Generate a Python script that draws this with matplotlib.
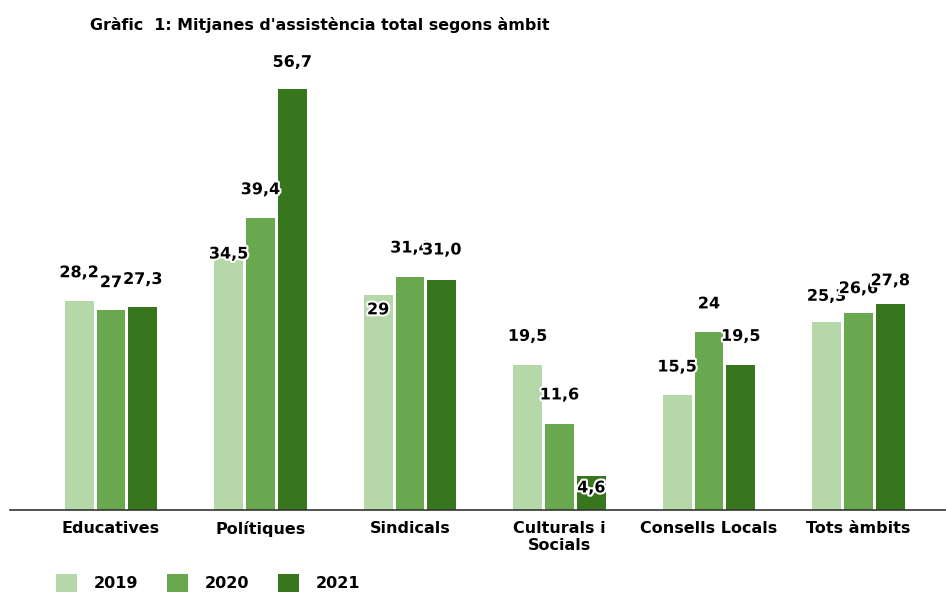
import matplotlib
matplotlib.use("Agg")
import matplotlib.pyplot as plt
import matplotlib.patheffects as pe
import numpy as np

categories = ["Educatives", "Polítiques", "Sindicals", "Culturals i\nSocials", "Consells Locals", "Tots àmbits"]
years = ["2019", "2020", "2021"]
v2019 = [28.2, 34.5, 29.0, 19.5, 15.5, 25.3]
v2020 = [27.0, 39.4, 31.4, 11.6, 24.0, 26.6]
v2021 = [27.3, 56.7, 31.0, 4.6, 19.5, 27.8]
l2019 = ["28,2", "34,5", "29", "19,5", "15,5", "25,3"]
l2020 = ["27", "39,4", "31,4", "11,6", "24", "26,6"]
l2021 = ["27,3", "56,7", "31,0", "4,6", "19,5", "27,8"]

colors = ["#b6d7a8", "#6aa84f", "#38761d"]
# label offset above bar top in pixels (style)
offs = [
    [28, 0, -15, 29, 28, 26],
    [27, 28, 29, 29, 28, 24],
    [28, 27, 30, -12, 29, 23],
]

fig = plt.figure(figsize=(9.46, 5.92), dpi=100)
ax = fig.add_axes([10/946, 82/592, 936/946, (60*7.42)/592])

x = np.arange(len(categories))
pitch = 0.213
w = 0.193
series = [v2019, v2020, v2021]
labels = [l2019, l2020, l2021]
for i, (vals, labs) in enumerate(zip(series, labels)):
    xs = x + (i - 1) * pitch
    ax.bar(xs, vals, width=w, color=colors[i], label=years[i], zorder=2)
    for j, (xx, v, lab) in enumerate(zip(xs, vals, labs)):
        ax.annotate(lab, (xx, v), xytext=(0, offs[i][j] * 0.72), textcoords="offset points",
                    ha="center", va="center", fontsize=11.5, fontweight="bold", color="black",
                    annotation_clip=False, zorder=5,
                    path_effects=[pe.withStroke(linewidth=3, foreground="white")])

ax.set_xlim(-101/149.5, 835/149.5)
ax.set_ylim(0, 60)
ax.set_xticks(x)
ax.set_xticklabels(categories, fontsize=11.5, fontweight="bold", linespacing=1.15)
ax.tick_params(axis="x", length=0, pad=8)
ax.set_yticks([])
for s in ["top", "right", "left"]:
    ax.spines[s].set_visible(False)
ax.spines["bottom"].set_color("#333333")
ax.spines["bottom"].set_linewidth(1.2)
ax.spines["bottom"].set_zorder(3)

fig.text(90/946, 1 - 25/592, "Gràfic  1: Mitjanes d'assistència total segons àmbit",
         fontsize=11.4, fontweight="bold", va="center", ha="left")

leg = fig.legend(loc="center left", bbox_to_anchor=(42/946, 1 - 583/592), ncol=3, frameon=False,
                 handlelength=1.3, handleheight=1.3, columnspacing=1.8, handletextpad=1.05,
                 prop={"weight": "bold", "size": 11.5})

fig.savefig("out.png", dpi=100)
